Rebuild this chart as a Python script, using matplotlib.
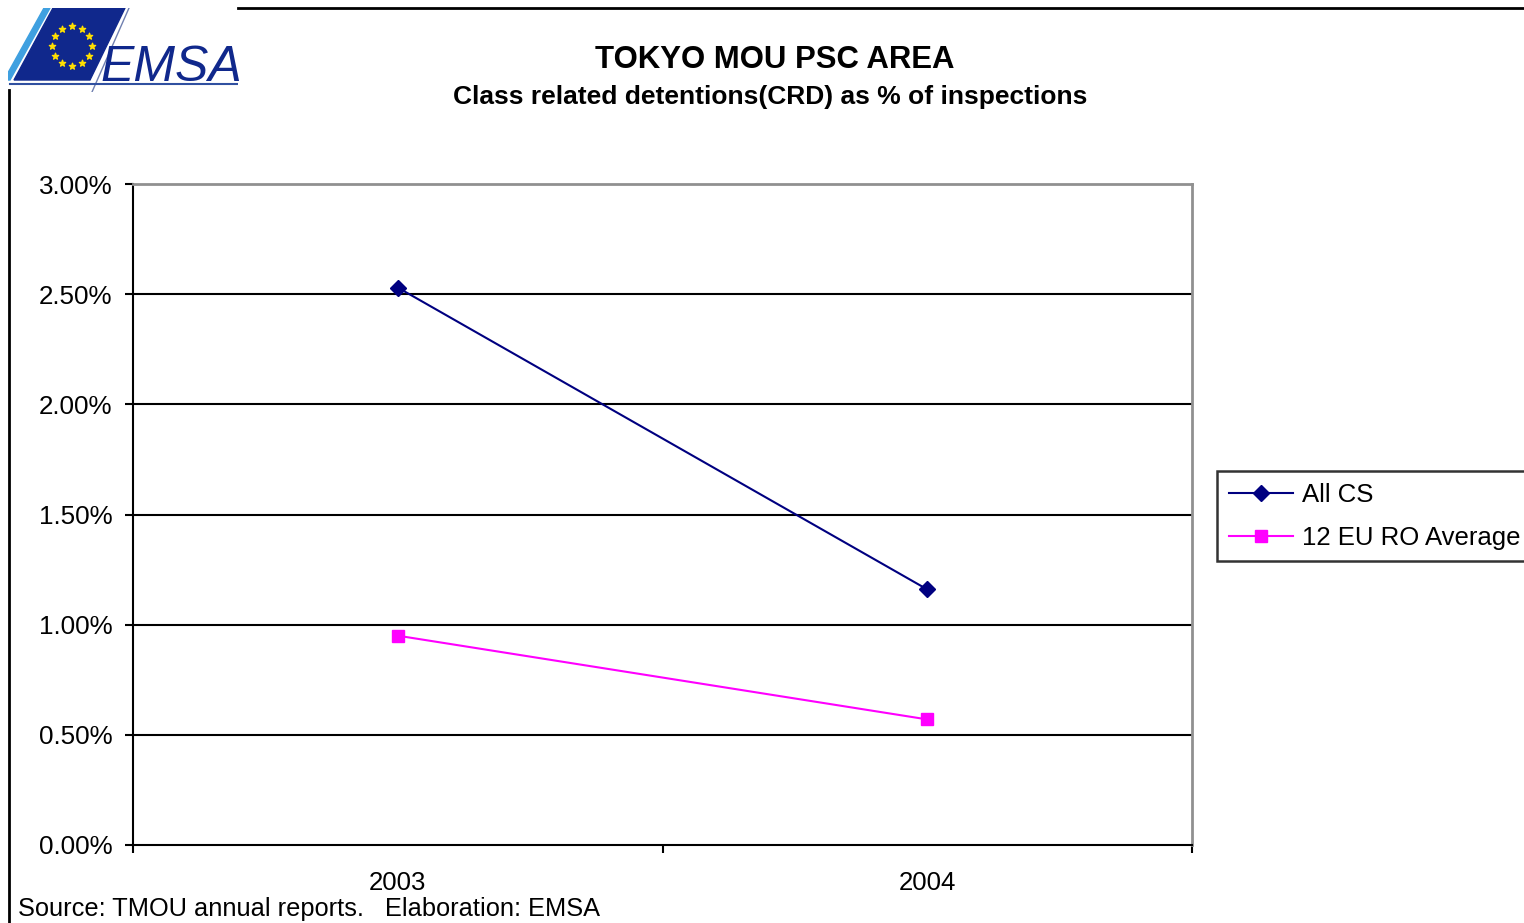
import matplotlib
matplotlib.use("Agg")
import matplotlib.pyplot as plt
from matplotlib.patches import Polygon
from matplotlib.lines import Line2D
import numpy as np

plt.rcParams['font.family'] = ['Liberation Sans', 'DejaVu Sans']

categories = ["2003", "2004"]
all_cs = [2.53, 1.16]
eu_ro_avg = [0.95, 0.57]
y_ticks = [0.0, 0.5, 1.0, 1.5, 2.0, 2.5, 3.0]
y_tick_labels = ["0.00%", "0.50%", "1.00%", "1.50%", "2.00%", "2.50%", "3.00%"]
series_names = ["All CS", "12 EU RO Average"]

W, H = 1524, 923
fig = plt.figure(figsize=(W / 100, H / 100), dpi=100)

def fx(px):
    return px / W

def fy(py):
    return 1 - py / H

ax = fig.add_axes([fx(133), fy(845), (1192 - 133) / W, (845 - 184) / H])
x = np.arange(len(categories)) + 0.5
l1, = ax.plot(x, all_cs, color='#000080', lw=1.5, marker='D', ms=8,
              markerfacecolor='#000080', markeredgecolor='#000080')
l2, = ax.plot(x, eu_ro_avg, color='#FF00FF', lw=1.5, marker='s', ms=8,
              markerfacecolor='#FF00FF', markeredgecolor='#FF00FF')
ax.set_xlim(0, len(categories))
ax.set_ylim(0, 3.0)
ax.set_yticks(y_ticks)
ax.set_yticklabels(y_tick_labels, fontsize=18.7)
for yv in y_ticks[1:-1]:
    ax.axhline(yv, color='black', lw=1.5, zorder=0)
ax.set_xticks(np.arange(len(categories) + 1))
ax.set_xticklabels([])
ax.set_xticks(x, minor=True)
ax.set_xticklabels(categories, minor=True, fontsize=18.5)
ax.tick_params(axis='x', which='major', length=6, width=1.5, direction='out', color='black')
ax.tick_params(axis='x', which='minor', length=0, pad=19)
ax.tick_params(axis='y', length=6, width=1.5, direction='out', pad=9)
for s in ['top', 'right']:
    ax.spines[s].set_color('#909090')
    ax.spines[s].set_linewidth(2)
for s in ['left', 'bottom']:
    ax.spines[s].set_color('black')
    ax.spines[s].set_linewidth(1.5)

# Titles
fig.text(fx(775), fy(60), "TOKYO MOU PSC AREA", ha='center', va='center',
         fontsize=22.4, fontweight='bold')
fig.text(fx(770), fy(97), "Class related detentions(CRD) as % of inspections",
         ha='center', va='center', fontsize=19, fontweight='bold')

# Legend
leg = fig.legend([l1, l2], series_names, loc='upper left',
                 bbox_to_anchor=(fx(1217), fy(471)), fontsize=18.5,
                 frameon=True, fancybox=False, handlelength=2.5,
                 borderpad=0.45, labelspacing=0.75, handletextpad=0.35,
                 borderaxespad=0)
leg.get_frame().set_edgecolor('black')
leg.get_frame().set_linewidth(1.8)

# Source
fig.text(fx(18), fy(909), "Source: TMOU annual reports.   Elaboration: EMSA",
         ha='left', va='center', fontsize=18.3)

# Page frame lines
fig.add_artist(Line2D([fx(9), fx(9)], [fy(90), fy(923)], color='black', lw=2))
fig.add_artist(Line2D([fx(238), fx(1524)], [fy(8), fy(8)], color='black', lw=2))

# Logo
lax = fig.add_axes([fx(8), fy(92), 230 / W, 84 / H])
lax.set_xlim(0, 230)
lax.set_ylim(84, 0)
lax.axis('off')
lax.add_patch(Polygon([[36, 0], [42, 0], [2, 72], [-4, 72]], closed=True,
                      color='#3FA0E0'))
lax.add_patch(Polygon([[45, 0], [117, 0], [82, 72], [6, 72]], closed=True,
                      color='#10288C'))
lax.plot([121, 84], [0, 84], color='#7080B0', lw=1)
lax.plot([2, 230], [76, 76], color='#3050A0', lw=1.5)
ang = np.linspace(0, 2 * np.pi, 13)[:-1]
lax.scatter(64 + 20 * np.sin(ang), 38 - 20 * np.cos(ang), marker='*', s=22,
            color='#FFE000', zorder=3)
lax.text(92, 73, "EMSA", fontsize=36, style='italic', color='#10288C',
         ha='left', va='baseline')

fig.savefig("out.png", dpi=100)
